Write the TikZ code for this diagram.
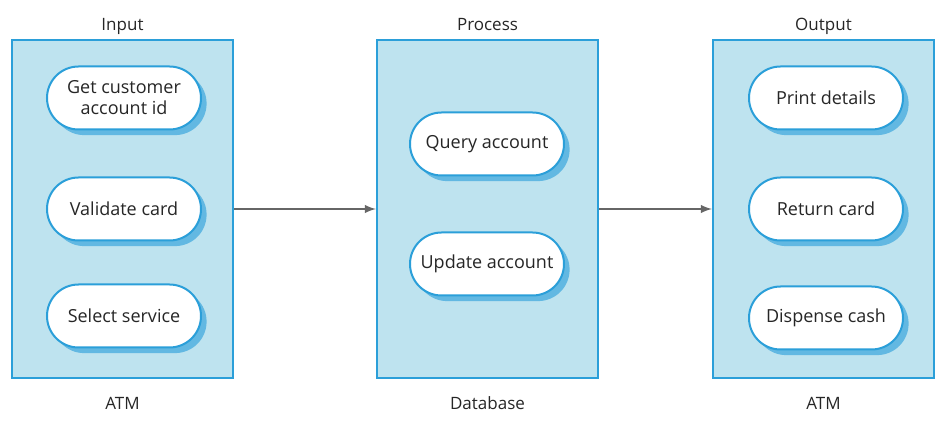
\documentclass[tikz,border=0pt]{standalone}
\usepackage{fontspec}
\setmainfont{Open Sans}
\usetikzlibrary{shapes.misc,shadows}
\definecolor{boxfill}{HTML}{BEE3EF}
\definecolor{boxline}{HTML}{2B9FD9}
\definecolor{pillshadow}{HTML}{62B8E2}
\definecolor{textgray}{HTML}{262626}
\tikzset{>=latex}
\tikzset{
    stage/.style={draw=boxline,fill=boxfill,line width=1.1pt,minimum width=110.5pt,minimum height=169pt,inner sep=0pt},
    stagelabel/.style={text=textgray,font=\fontsize{8.5}{10}\selectfont,inner sep=1pt,text height=1.6ex,text depth=0.4ex},
    activity/.style={rounded rectangle,draw=boxline,fill=white,line width=1pt,minimum width=79pt,minimum height=31.5pt,
        text=textgray,font=\fontsize{9}{10.5}\selectfont,align=center,inner sep=1pt,
        drop shadow={shadow xshift=2.8pt,shadow yshift=-2.8pt,fill=pillshadow,opacity=1}},
    flow/.style={->,draw=black!60,line width=0.9pt}
}

\begin{document}
\begin{tikzpicture}[x=0.5pt,y=-0.5pt]
    \useasboundingbox (0,0) rectangle (952,432);
    % the three stages
    \node[stage,label={[stagelabel,label distance=1pt]above:Input},label={[stagelabel,label distance=5.5pt]below:ATM}]       (input)   at (122.5,209) {};
    \node[stage,label={[stagelabel,label distance=1pt]above:Process},label={[stagelabel,label distance=5.5pt]below:Database}] (process) at (487.5,209) {};
    \node[stage,label={[stagelabel,label distance=1pt]above:Output},label={[stagelabel,label distance=5.5pt]below:ATM}]      (output)  at (823.5,209) {};
    % input activities
    \node[activity] (getid)    at (124,98)  {Get customer\\account id};
    \node[activity] (validate) at (124,209) {Validate card};
    \node[activity] (select)   at (124,316) {Select service};
    % process activities
    \node[activity] (query)    at (487,144) {Query account};
    \node[activity] (update)   at (487,264) {Update account};
    % output activities
    \node[activity] (print)    at (826,98)  {Print details};
    \node[activity] (return)   at (826,209) {Return card};
    \node[activity] (dispense) at (826,318) {Dispense cash};
    \draw[flow] (input) -- (process);
    \draw[flow] (process) -- (output);
\end{tikzpicture}
\end{document}
